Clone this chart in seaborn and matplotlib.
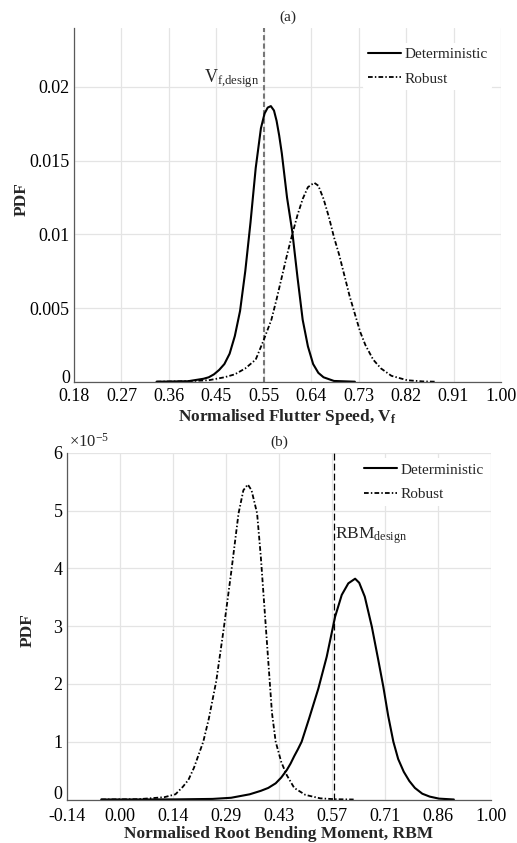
import numpy as np
import pandas as pd
import matplotlib
matplotlib.use("Agg")
import matplotlib.pyplot as plt
import matplotlib.transforms as mtransforms
import seaborn as sns
from matplotlib.ticker import FixedLocator, FixedFormatter

# ---------------- data ----------------
# Panel (a): normalised flutter speed PDFs
vf_det_x = [0.34, 0.40, 0.43, 0.44, 0.45, 0.46, 0.47, 0.48, 0.49, 0.50, 0.51, 0.52, 0.53,
            0.54, 0.547, 0.553, 0.559, 0.565, 0.57, 0.575, 0.58, 0.59, 0.60, 0.61, 0.62,
            0.63, 0.64, 0.65, 0.66, 0.68, 0.72]
vf_det_y = [0.0, 0.00003, 0.0002, 0.0003, 0.0005, 0.0008, 0.0012, 0.0019, 0.0031, 0.0048,
            0.0075, 0.0108, 0.0145, 0.0172, 0.0182, 0.0186, 0.0187, 0.0184, 0.0177, 0.0167,
            0.0155, 0.0125, 0.0102, 0.0071, 0.0042, 0.0024, 0.0012, 0.0006, 0.0003,
            0.00005, 0.0]
vf_rob_x = [0.34, 0.40, 0.44, 0.47, 0.49, 0.51, 0.53, 0.545, 0.56, 0.57, 0.58, 0.59, 0.60,
            0.61, 0.62, 0.63, 0.642, 0.65, 0.66, 0.67, 0.68, 0.69, 0.70, 0.71, 0.72, 0.73,
            0.74, 0.755, 0.77, 0.79, 0.82, 0.85, 0.875]
vf_rob_y = [0.0, 0.00003, 0.0001, 0.0003, 0.0005, 0.0009, 0.0015, 0.0028, 0.0042, 0.0056,
            0.0071, 0.0086, 0.0100, 0.0113, 0.0124, 0.0132, 0.0135, 0.0133, 0.0124, 0.0112,
            0.0098, 0.0086, 0.0072, 0.0058, 0.0046, 0.0034, 0.0025, 0.0015, 0.0009, 0.0004,
            0.0001, 0.00002, 0.0]
vf_design = 0.5455
vf_ticklabels = ["0.18", "0.27", "0.36", "0.45", "0.55", "0.64", "0.73", "0.82", "0.91", "1.00"]
vf_yticklabels = ["0", "0.005", "0.01", "0.015", "0.02"]

# Panel (b): normalised root bending moment PDFs (values in units of 1e-5)
rbm_scale = 1e-5
rbm_det_x = [-0.05, 0.15, 0.25, 0.30, 0.35, 0.38, 0.40, 0.42, 0.435, 0.45, 0.46, 0.47, 0.48,
             0.49, 0.51, 0.535, 0.5575, 0.58, 0.598, 0.6157, 0.634, 0.645, 0.66, 0.679,
             0.6965, 0.71, 0.723, 0.737, 0.75, 0.765, 0.78, 0.795, 0.815, 0.835, 0.86, 0.90]
rbm_det_y = [0.0, 0.002, 0.01, 0.03, 0.09, 0.15, 0.20, 0.28, 0.38, 0.51, 0.62, 0.75, 0.87,
             1.0, 1.4, 1.92, 2.47, 3.16, 3.54, 3.74, 3.82, 3.75, 3.51, 2.99,
             2.41, 1.95, 1.45, 1.0, 0.7, 0.48, 0.32, 0.2, 0.1, 0.05, 0.015, 0.0]
rbm_rob_x = [-0.05, 0.05, 0.12, 0.15, 0.17, 0.185, 0.20, 0.225, 0.24, 0.26, 0.28, 0.30,
             0.32, 0.333, 0.345, 0.355, 0.37, 0.38, 0.39, 0.40, 0.41, 0.42, 0.435, 0.45,
             0.47, 0.50, 0.54, 0.58, 0.63]
rbm_rob_y = [0.0, 0.005, 0.04, 0.09, 0.22, 0.34, 0.55, 1.0, 1.4, 2.05, 2.95, 3.92,
             4.95, 5.35, 5.45, 5.35, 4.95, 4.2, 3.3, 2.4, 1.5, 1.0, 0.65, 0.42,
             0.2, 0.08, 0.02, 0.005, 0.0]
rbm_design = 0.578
rbm_ticklabels = ["-0.14", "0.00", "0.14", "0.29", "0.43", "0.57", "0.71", "0.86", "1.00"]
rbm_yticklabels = ["0", "1", "2", "3", "4", "5", "6"]

series_names = ["Deterministic", "Robust"]

# ---------------- style ----------------
sns.set_theme(style="whitegrid")
plt.rcParams["font.family"] = ["Liberation Serif", "DejaVu Serif"]
plt.rcParams["mathtext.fontset"] = "custom"
plt.rcParams["mathtext.rm"] = "Liberation Serif"
plt.rcParams["mathtext.it"] = "Liberation Serif:italic"
plt.rcParams["mathtext.bf"] = "Liberation Serif:bold"

GRID = "#e4e4e4"
SPINE = "#5a5a5a"
DASHDOT = (0, (2.6, 1.2, 0.8, 1.2))
TICK_FS = 13

fig = plt.figure(figsize=(5.17, 8.43), dpi=100)
ax1 = fig.add_axes([74 / 517, 1 - 381.7 / 843, 427 / 517, 353.7 / 843])
ax2 = fig.add_axes([66.7 / 517, 1 - 799.5 / 843, 424.3 / 517, 346.8 / 843])


def style_axes(ax, xpad):
    ax.set_facecolor("white")
    ax.grid(True, color=GRID, linewidth=0.9)
    ax.set_axisbelow(True)
    for s in ["top", "right"]:
        ax.spines[s].set_visible(False)
    for s in ["left", "bottom"]:
        ax.spines[s].set_visible(True)
        ax.spines[s].set_color(SPINE)
        ax.spines[s].set_linewidth(0.9)
    ax.tick_params(axis="both", direction="in", length=3, width=0.8, color=SPINE,
                   labelsize=TICK_FS, labelcolor="black")
    ax.tick_params(axis="y", pad=3)
    ax.tick_params(axis="x", pad=xpad)


def legend(ax, x, y):
    ax.legend(loc="upper right", bbox_to_anchor=(x, y), borderaxespad=0, fontsize=11,
              handlelength=2.15, handletextpad=0.27, labelspacing=0.72,
              frameon=True, facecolor="white", edgecolor="none", framealpha=1,
              borderpad=0.3)


# ---------------- panel (a) ----------------
df_a_det = pd.DataFrame({"x": vf_det_x, "y": vf_det_y})
df_a_rob = pd.DataFrame({"x": vf_rob_x, "y": vf_rob_y})
sns.lineplot(data=df_a_det, x="x", y="y", ax=ax1, color="black", linewidth=1.5,
             estimator=None, label=series_names[0])
sns.lineplot(data=df_a_rob, x="x", y="y", ax=ax1, color="black", linewidth=1.3,
             linestyle=DASHDOT, estimator=None, label=series_names[1])
ax1.axvline(vf_design, color="#777777", linewidth=1.5, linestyle=(0, (2.5, 1.5)), zorder=1.5)
style_axes(ax1, 4.5)
ax1.set_xlim(2 / 11, 1.0)
ax1.set_ylim(0, 0.024)
ax1.xaxis.set_major_locator(FixedLocator(np.linspace(2 / 11, 1.0, len(vf_ticklabels))))
ax1.xaxis.set_major_formatter(FixedFormatter(vf_ticklabels))
ax1.yaxis.set_major_locator(FixedLocator(np.linspace(0, 0.02, len(vf_yticklabels))))
ax1.yaxis.set_major_formatter(FixedFormatter(vf_yticklabels))
ax1.set_xlabel(r"Normalised Flutter Speed, $\mathbf{V_f}$", fontsize=12.5,
               fontweight="bold", labelpad=0)
ax1.set_ylabel("PDF", fontsize=12.5, fontweight="bold")
ax1.xaxis.set_label_coords(0.5, -0.0715)
ax1.yaxis.set_label_coords(-0.104, 0.515)
ax1.set_title("(a)", fontsize=11, pad=5)
ax1.text(0.5363, 0.0203, r"$\mathregular{V_{f{,}design}}$", fontsize=13,
         ha="right", va="baseline")
legend(ax1, 0.980, 0.958)

# ---------------- panel (b) ----------------
df_b_det = pd.DataFrame({"x": rbm_det_x, "y": np.array(rbm_det_y) * rbm_scale})
df_b_rob = pd.DataFrame({"x": rbm_rob_x, "y": np.array(rbm_rob_y) * rbm_scale})
sns.lineplot(data=df_b_det, x="x", y="y", ax=ax2, color="black", linewidth=1.5,
             estimator=None, label=series_names[0])
sns.lineplot(data=df_b_rob, x="x", y="y", ax=ax2, color="black", linewidth=1.3,
             linestyle=DASHDOT, estimator=None, label=series_names[1])
ax2.axvline(rbm_design, color="black", linewidth=0.9, linestyle=(0, (5.5, 2.5)), zorder=1.5)
style_axes(ax2, 6)
ax2.set_xlim(-1 / 7, 1.0)
ax2.set_ylim(0, 6 * rbm_scale)
ax2.xaxis.set_major_locator(FixedLocator(np.linspace(-1 / 7, 1.0, len(rbm_ticklabels))))
ax2.xaxis.set_major_formatter(FixedFormatter(rbm_ticklabels))
ax2.yaxis.set_major_locator(FixedLocator(np.arange(len(rbm_yticklabels)) * rbm_scale))
ax2.yaxis.set_major_formatter(FixedFormatter(rbm_yticklabels))
ax2.text(0.005, 1.005, r"$\times\mathregular{10^{-5}}$", transform=ax2.transAxes,
         fontsize=12, ha="left", va="bottom")
ax2.set_xlabel("Normalised Root Bending Moment, RBM", fontsize=12.5,
               fontweight="bold", labelpad=0)
ax2.set_ylabel("PDF", fontsize=12.5, fontweight="bold")
ax2.xaxis.set_label_coords(0.5, -0.0764)
ax2.yaxis.set_label_coords(-0.074, 0.489)
ax2.set_title("(b)", fontsize=11, pad=5)
ax2.text(rbm_design + 0.002, 4.51 * rbm_scale, r"$\mathregular{RBM_{design}}$",
         fontsize=12.5, ha="left", va="baseline")
legend(ax2, 0.9943, 0.984)

# lift the "0" y tick labels slightly so they sit above the first x tick label,
# as in the reference
fig.canvas.draw()
for ax, dy in ((ax1, 4), (ax2, 5)):
    t = ax.yaxis.get_major_ticks()[0]
    t.label1.set_transform(t.label1.get_transform() +
                           mtransforms.ScaledTranslation(0, dy / 72, fig.dpi_scale_trans))

fig.savefig("out.png", dpi=100, facecolor="white")
